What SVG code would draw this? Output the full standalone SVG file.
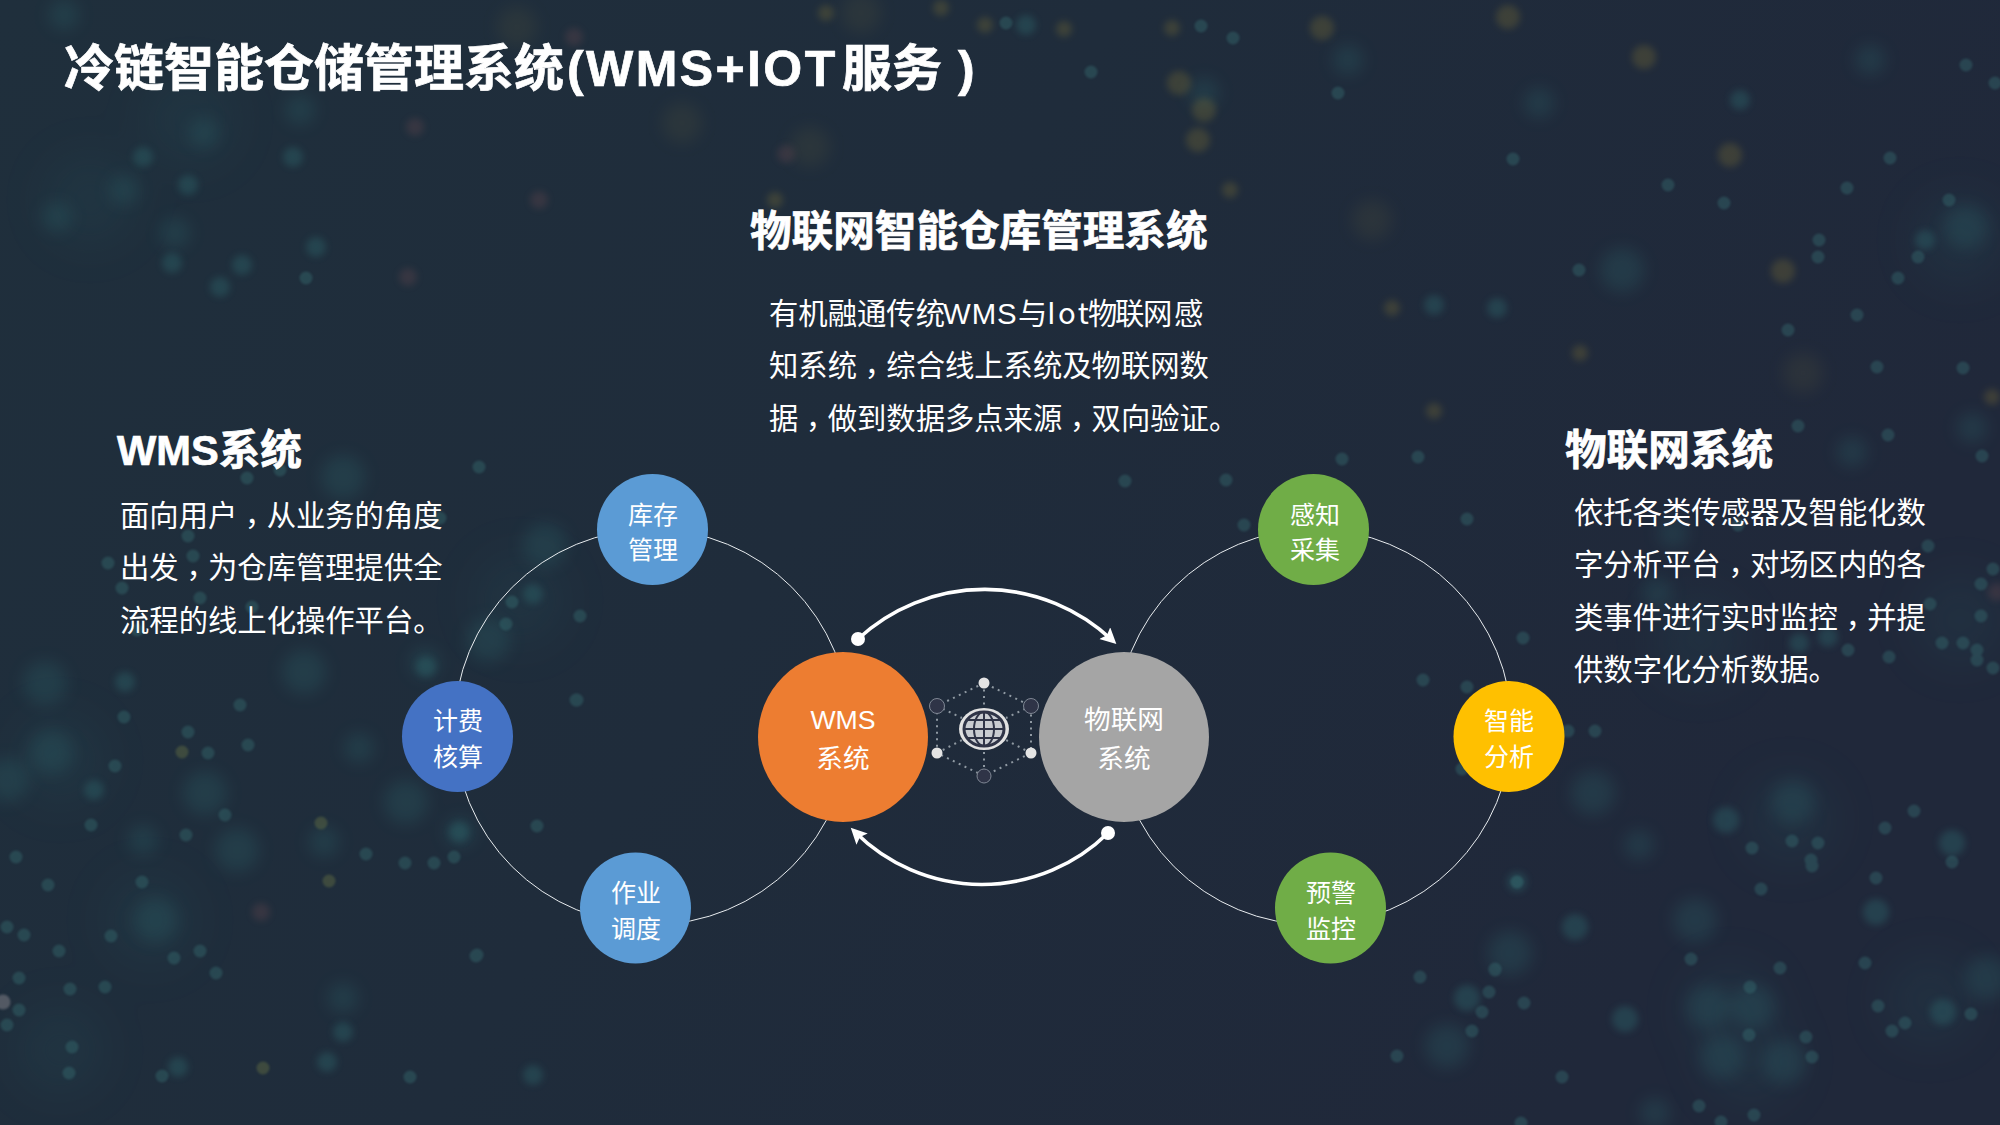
<svg xmlns="http://www.w3.org/2000/svg" width="2000" height="1125" viewBox="0 0 2000 1125">
<style>
text{font-family:"Noto Sans CJK SC","Liberation Sans",sans-serif;fill:#fff}
.h{font-weight:700;stroke:#fff;stroke-width:.7}
.b{font-size:29.33px}
.c{font-family:"Noto Sans CJK TC","Noto Sans CJK SC",sans-serif}
.l{font-family:"Liberation Sans",sans-serif}
.n{font-size:25px;text-anchor:middle}
.m{font-size:26.67px;text-anchor:middle}
.ring{fill:none;stroke:#e8ecef;stroke-width:1}
.flow{fill:none;stroke:#fff;stroke-width:3.6}
.dot{fill:#fff}
.d{fill:none;stroke-linecap:round}
.lk{fill:none;stroke:#8f99a2;stroke-width:2;stroke-dasharray:2 4.5}
.dk{fill:#2f3447;stroke:#7f8794;stroke-width:1}
.lt{fill:#e4e4e4}
.g{fill:none;stroke:#2f3447;stroke-width:2}
</style>
<defs>
<linearGradient id="bg" x1="0" y1="0" x2="1" y2="0.35">
<stop offset="0" stop-color="#1f2f3c"/><stop offset="0.5" stop-color="#1f2c3b"/><stop offset="1" stop-color="#20283a"/>
</linearGradient>
<filter id="f1" filterUnits="userSpaceOnUse" x="0" y="0" width="2000" height="1125"><feGaussianBlur stdDeviation="1"/></filter>
<filter id="f2" filterUnits="userSpaceOnUse" x="0" y="0" width="2000" height="1125"><feGaussianBlur stdDeviation="3.5"/></filter>
<filter id="f3" filterUnits="userSpaceOnUse" x="0" y="0" width="2000" height="1125"><feGaussianBlur stdDeviation="8"/></filter>
<filter id="f4" filterUnits="userSpaceOnUse" x="0" y="0" width="2000" height="1125"><feGaussianBlur stdDeviation="22"/></filter>
<marker id="arrow" markerUnits="userSpaceOnUse" markerWidth="18" markerHeight="18" refX="10" refY="8" orient="auto">
<path d="M0 0L16 8L0 16L3 8Z" fill="#fff"/>
</marker>
</defs>

<g id="background">
<rect width="2000" height="1125" fill="url(#bg)"/>
<g class="d" filter="url(#f4)" stroke="#28505a" opacity=".2">
<path stroke-width="90" d="M60 760h0M150 920h0M90 200h0M190 120h0M1730 1010h0M1790 820h0M1960 240h0M520 600h0M60 1050h0M1750 1060h0M1930 1000h0M1700 640h0M1960 620h0"/>
</g>
<g class="d" filter="url(#f3)" stroke="#2f6a70" opacity=".26">
<path stroke-width="44" d="M51 752h0M45 683h0M205 793h0M156 920h0M304 672h0M7 780h0M237 850h0M406 802h0M343 477h0M545 545h0M488 640h0M1695 920h0M1447 1046h0M1793 802h0M1708 1007h0M1753 1007h0M1784 1062h0M1722 1057h0M1987 978h0M1510 953h0M1593 793h0M1622 270h0M1966 227h0"/>
<path stroke-width="30" d="M359 748h0M324 842h0M143 840h0M343 998h0M425 663h0M460 832h0M1639 845h0M1592 793h0M1852 452h0M1972 428h0M1673 533h0M1657 593h0M1655 1113h0M1348 60h0M1204 93h0M1870 60h0M1539 103h0M204 133h0M64 15h0M300 110h0M124 190h0M175 233h0M57 217h0"/>
</g>
<g class="d" filter="url(#f3)" stroke="#5c5a3c" opacity=".2">
<path stroke-width="40" d="M861 13h0M810 147h0M682 123h0M517 27h0M1372 220h0M1803 373h0"/>
</g>
<g class="d" filter="url(#f2)" stroke="#2f6a70" opacity=".38">
<path stroke-width="26" d="M1575 927h0M1625 1019h0M1467 998h0M1876 912h0M1943 1012h0M1952 843h0M1726 820h0"/>
<path stroke-width="20" d="M125 682h0M94 790h0M426 667h0M343 1032h0M327 1062h0M178 1067h0M459 832h0M533 1075h0M1026 25h0M1434 305h0M1497 308h0M1925 240h0M1740 100h0M293 157h0M143 157h0M188 185h0M172 263h0M242 265h0M316 247h0M220 287h0M533 594h0M1517 882h0M1828 637h0M1799 643h0"/>
</g>
<g class="d" filter="url(#f2)" stroke="#8b7a35" opacity=".28">
<path stroke-width="24" d="M1322 28h0M1508 17h0M1644 57h0M1730 155h0M1783 271h0M1179 83h0M1204 110h0M1198 140h0"/>
<path stroke-width="16" d="M1064 29h0M1172 28h0M1230 190h0M1392 308h0M1434 411h0M1992 397h0M1580 353h0M826 13h0M941 8h0M985 25h0M775 200h0"/>
</g>
<g class="d" filter="url(#f2)" stroke="#6a4a50" opacity=".32">
<path stroke-width="18" d="M261 912h0M786 154h0M539 200h0M408 277h0M574 37h0M1997 592h0M415 127h0"/>
</g>
<g class="d" filter="url(#f1)" stroke="#3d7f80" opacity=".33">
<path stroke-width="13" d="M1792 841h0M1818 843h0M1811 860h0M1812 866h0M1885 828h0M1914 811h0M1952 862h0M1876 878h0M1761 889h0M1517 882h0M1865 963h0M1780 968h0M1691 959h0M1750 987h0M1878 1006h0M1971 1014h0M1905 1023h0M1892 1031h0M1749 1035h0M1806 1037h0M1812 1057h0M1495 970h0M1489 992h0M1482 1012h0M1524 1003h0M1472 1031h0M1420 977h0M1397 1056h0M1562 1077h0M1721 1122h0M1521 1123h0M1699 1106h0M1754 1115h0M1752 848h0"/>
<path stroke-width="13" d="M188 732h0M208 753h0M248 745h0M115 766h0M91 825h0M186 835h0M225 815h0M142 882h0M48 885h0M366 854h0M434 863h0M454 857h0M405 863h0M111 936h0M24 935h0M59 951h0M174 958h0M200 951h0M19 978h0M70 989h0M105 987h0M216 973h0M19 1010h0M7 1025h0M72 1047h0M69 1073h0M162 1076h0M410 1077h0M476 956h0M537 826h0M16 857h0M124 717h0M240 705h0M576 700h0M7 927h0"/>
<path stroke-width="13" d="M1006 23h0M1201 26h0M1338 93h0M1966 65h0M1995 83h0M1890 158h0M1847 188h0M1819 240h0M1818 257h0M1857 315h0M1788 330h0M1724 203h0M1668 185h0M1898 278h0M1949 200h0M1918 257h0M1963 368h0M1877 367h0M1579 270h0M1091 72h0M1233 38h0M1513 159h0M306 278h0"/>
<path stroke-width="13" d="M188 536h0M193 556h0M108 563h0M122 588h0M479 467h0M247 478h0M200 598h0M252 607h0M440 518h0M280 470h0M137 630h0M512 602h0M506 624h0M580 616h0M577 700h0M477 955h0M1342 459h0M1418 457h0M1467 519h0M1523 638h0M1244 525h0M1226 480h0M1125 481h0M1423 680h0M1568 731h0M1595 731h0M1495 969h0M1462 769h0M1467 687h0M1798 426h0M1888 435h0M1982 456h0M1928 546h0M1993 569h0M1981 584h0M1930 604h0M1981 616h0M1942 643h0M1963 643h0M1977 650h0M1977 660h0M1889 657h0M1993 668h0M1848 650h0M1738 525h0"/>
</g>
<g class="d" filter="url(#f1)" stroke="#6f7a45" opacity=".38">
<path stroke-width="13" d="M182 752h0M329 881h0M321 823h0M263 1068h0"/>
</g>
<g class="d" filter="url(#f1)" stroke="#77777f" opacity=".6">
<path stroke-width="15" d="M3 1002h0"/>
</g>
</g>

<g id="connectors">
<circle class="ring" cx="652" cy="727" r="197.700"/>
<circle class="ring" cx="1314" cy="727" r="197.700"/>
<path class="flow" d="M858 639A186 186 0 0 1 1112 640" marker-end="url(#arrow)"/>
<path class="flow" d="M1108 833A180 180 0 0 1 855 832" marker-end="url(#arrow)"/>
<circle class="dot" cx="858" cy="639" r="7"/>
<circle class="dot" cx="1108" cy="833" r="7"/>
</g>

<g id="title"><text class="h" x="64" y="86" font-size="50">冷链智能仓储管理系统<tspan class="l" x="567" letter-spacing="2.4">(WMS+IOT</tspan><tspan x="842">服务</tspan><tspan class="l" x="958">)</tspan></text></g>

<g id="center-text">
<text class="h" x="750" y="246" font-size="41.6">物联网智能仓库管理系统</text>
<text class="b" x="769" y="324">有机融通传统<tspan class="l" x="943" letter-spacing="1">WMS</tspan><tspan x="1018">与</tspan><tspan x="1047" letter-spacing="2.500">Iot</tspan><tspan x="1088 1115 1143">物联网</tspan><tspan x="1174">感</tspan></text>
<text class="b" x="769" y="376">知系统<tspan class="c" dy="8">，</tspan><tspan dy="-8">综合线上系统及物联网数</tspan></text>
<text class="b" x="769" y="429">据<tspan class="c" dy="8">，</tspan><tspan dy="-8">做到数据多点来源</tspan><tspan class="c" dy="8">，</tspan><tspan dy="-8">双向验证。</tspan></text>
</g>

<g id="left-text">
<text class="h" x="117" y="465" font-size="41.6" style="font-family:'Liberation Sans','Noto Sans CJK SC',sans-serif">WMS系统</text>
<text class="b" x="120" y="526">面向用户<tspan class="c" dy="8">，</tspan><tspan dy="-8">从业务的角度</tspan></text>
<text class="b" x="120" y="578">出发<tspan class="c" dy="8">，</tspan><tspan dy="-8">为仓库管理提供全</tspan></text>
<text class="b" x="120" y="631">流程的线上化操作平台。</text>
</g>

<g id="right-text">
<text class="h" x="1565" y="465" font-size="41.6">物联网系统</text>
<text class="b" x="1574" y="523">依托各类传感器及智能化数</text>
<text class="b" x="1574" y="575">字分析平台<tspan class="c" dy="8">，</tspan><tspan dy="-8">对场区内的各</tspan></text>
<text class="b" x="1574" y="628">类事件进行实时监控<tspan class="c" dy="8">，</tspan><tspan dy="-8">并提</tspan></text>
<text class="b" x="1574" y="680">供数字化分析数据。</text>
</g>

<g id="node-wms"><circle cx="843" cy="737" r="85" fill="#ED7D31"/><text class="m" x="843" y="729" style="font-family:'Liberation Sans',sans-serif">WMS</text><text class="m" x="843" y="768">系统</text></g>
<g id="node-iot"><circle cx="1124" cy="737" r="85" fill="#A5A5A5"/><text class="m" x="1124" y="729">物联网</text><text class="m" x="1124" y="768">系统</text></g>
<g id="node-inventory"><circle cx="652.500" cy="529.500" r="55.500" fill="#5B9BD5"/><text class="n" x="653" y="524">库存</text><text class="n" x="653" y="559">管理</text></g>
<g id="node-billing"><circle cx="457.500" cy="736.500" r="55.500" fill="#4472C4"/><text class="n" x="458" y="730">计费</text><text class="n" x="458" y="766">核算</text></g>
<g id="node-dispatch"><circle cx="635.500" cy="908" r="55.500" fill="#5B9BD5"/><text class="n" x="636" y="902">作业</text><text class="n" x="636" y="938">调度</text></g>
<g id="node-sense"><circle cx="1313.500" cy="529.500" r="55.500" fill="#70AD47"/><text class="n" x="1315" y="524">感知</text><text class="n" x="1315" y="559">采集</text></g>
<g id="node-analysis"><circle cx="1509" cy="736.500" r="55.500" fill="#FFC000"/><text class="n" x="1509" y="730">智能</text><text class="n" x="1509" y="766">分析</text></g>
<g id="node-alert"><circle cx="1330.500" cy="908" r="55.500" fill="#70AD47"/><text class="n" x="1331" y="902">预警</text><text class="n" x="1331" y="938">监控</text></g>

<g id="node-globe">
<path class="lk" d="M984 683L937 706V753L984 776L1031 753V706ZM984 683V706M984 752V776M937 706L962 718M1031 706L1006 718M937 753L962 740M1031 753L1006 740"/>
<circle class="lt" cx="984" cy="683" r="5.500"/>
<circle class="lt" cx="937" cy="753" r="5.500"/>
<circle class="lt" cx="1031" cy="753" r="5.500"/>
<circle class="dk" cx="937" cy="706" r="7.500"/>
<circle class="dk" cx="1031" cy="706" r="7.500"/>
<circle class="dk" cx="984" cy="776" r="7"/>
<ellipse cx="984" cy="729" rx="25" ry="21" fill="#e2e2e2"/>
<ellipse cx="984" cy="729" rx="20" ry="17" fill="#c9ccd1" stroke="#2f3447" stroke-width="3"/>
<path class="g" d="M964 729H1004M967 720H1001M967 738H1001M984 712V746"/>
<ellipse class="g" cx="984" cy="729" rx="10" ry="17"/>
</g>
</svg>
